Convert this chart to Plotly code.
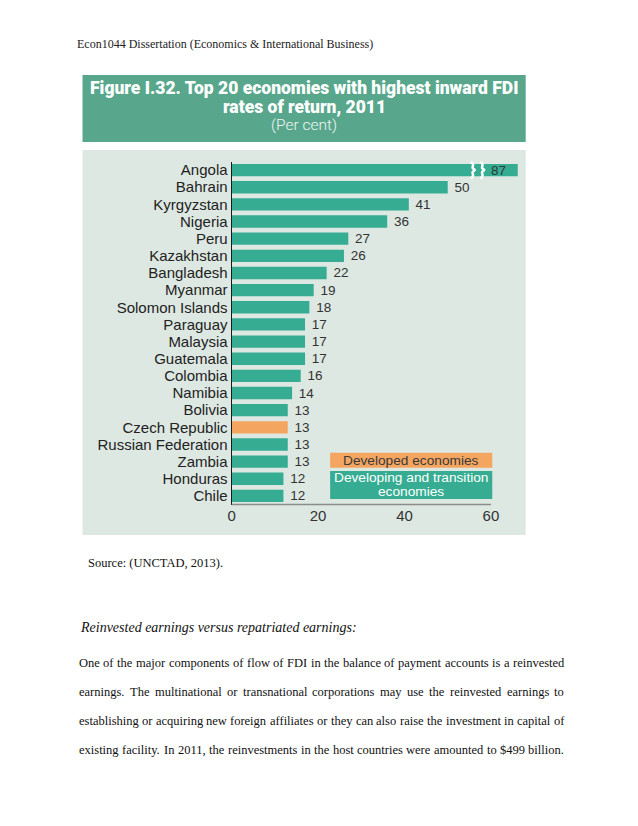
import plotly.graph_objects as go

# ---------------- data ----------------
countries = ["Angola", "Bahrain", "Kyrgyzstan", "Nigeria", "Peru", "Kazakhstan",
             "Bangladesh", "Myanmar", "Solomon Islands", "Paraguay", "Malaysia",
             "Guatemala", "Colombia", "Namibia", "Bolivia", "Czech Republic",
             "Russian Federation", "Zambia", "Honduras", "Chile"]
rates = [87, 50, 41, 36, 27, 26, 22, 19, 18, 17, 17, 17, 16, 14, 13, 13, 13, 13, 12, 12]
groups = ["Developing"] * 15 + ["Developed"] + ["Developing"] * 4
x_ticks = [0, 20, 40, 60]
AXIS_BREAK = 66.2          # axis is cut here; Angola's bar is drawn broken

title_lines = ["Figure I.32. Top 20 economies with highest inward FDI",
               "rates of return, 2011"]
subtitle = "(Per cent)"
legend_labels = {"Developed": "Developed economies",
                 "Developing": ["Developing and transition", "economies"]}

header = "Econ1044 Dissertation (Economics & International Business)"
source = "Source: (UNCTAD, 2013)."
heading = "Reinvested earnings versus repatriated earnings:"
para_lines = [
    "One of the major components of flow of FDI in the balance of payment accounts is a reinvested",
    "earnings. The multinational or transnational corporations may use the reinvested earnings to",
    "establishing or acquiring new foreign affiliates or they can also raise the investment in capital of",
    "existing facility. In 2011, the reinvestments in the host countries were amounted to $499 billion.",
]

# ---------------- styles ----------------
W, H = 638, 826
TEAL = "#36ad93"
ORANGE = "#f4a661"
TITLE_BG = "#58a78c"
PANEL_BG = "#dde8e2"
SANS = "Liberation Sans, Arial, sans-serif"
SERIF = "Liberation Serif, Times New Roman, serif"
TITLE_FONT = "Roboto, Liberation Sans, sans-serif"
color_map = {"Developing": TEAL, "Developed": ORANGE}


def px(x):
    return x / W


def py(y):
    return 1 - y / H


idx = list(range(len(countries)))
bar_colors = [color_map[g] for g in groups]
bar_text = ["" if v > AXIS_BREAK else "\u00a0" + str(v) for v in rates]

fig = go.Figure()
fig.add_trace(go.Bar(
    x=rates, y=idx, orientation="h", marker=dict(color=bar_colors, line=dict(width=0)),
    width=0.72, text=bar_text, textposition="outside", constraintext="none",
    textfont=dict(family=SANS, size=13.5, color="#333333"), cliponaxis=True,
    hoverinfo="skip", showlegend=False,
))

# break marks on the Angola bar (brace-like white squiggles)
for c in [55.7, 57.9]:
    fig.add_trace(go.Scatter(
        x=[c - 0.3, c + 0.15, c + 0.05, c + 0.55, c + 0.05, c + 0.15, c - 0.3],
        y=[-0.5, -0.33, -0.12, 0, 0.12, 0.33, 0.5], mode="lines",
        line=dict(color="white", width=2.5, shape="spline"),
        hoverinfo="skip", showlegend=False))

shapes = [
    # title box
    dict(type="rect", xref="paper", yref="paper", x0=px(79), x1=px(525), y0=py(142), y1=py(75),
         fillcolor=TITLE_BG, line=dict(width=0), layer="below"),
    # chart panel
    dict(type="rect", xref="paper", yref="paper", x0=px(79), x1=px(525), y0=py(535), y1=py(150),
         fillcolor=PANEL_BG, line=dict(width=0), layer="below"),
    # x axis line (0..60)
    dict(type="line", xref="x", yref="paper", x0=x_ticks[0], x1=x_ticks[-1],
         y0=py(504.5), y1=py(504.5), line=dict(color="#8c8c8c", width=1.5)),
    # legend boxes
    dict(type="rect", xref="x", yref="y", x0=22.8, x1=60.3, y0=16.48, y1=17.36,
         fillcolor=ORANGE, line=dict(width=0)),
    dict(type="rect", xref="x", yref="y", x0=22.8, x1=60.3, y0=17.55, y1=19.18,
         fillcolor=TEAL, line=dict(width=0)),
]

ann = []
# Angola value label inside the broken bar
ann.append(dict(x=AXIS_BREAK - 4.4, y=0, xref="x", yref="y", text=str(rates[0]),
                showarrow=False, font=dict(family=SANS, size=13.5, color="#2b3a35")))
# legend texts
ann.append(dict(x=41.5, y=16.93, xref="x", yref="y", text=legend_labels["Developed"],
                showarrow=False, font=dict(family=SANS, size=13.7, color="#3a3a3a")))
ann.append(dict(x=41.5, y=17.95, xref="x", yref="y", text=legend_labels["Developing"][0],
                showarrow=False, font=dict(family=SANS, size=13.7, color="white")))
ann.append(dict(x=41.5, y=18.77, xref="x", yref="y", text=legend_labels["Developing"][1],
                showarrow=False, font=dict(family=SANS, size=13.7, color="white")))
# title
for t, yy in zip(title_lines, [88, 107]):
    ann.append(dict(x=px(302), y=py(yy), xref="paper", yref="paper", text=t,
                    showarrow=False, xanchor="center", yanchor="middle",
                    font=dict(family=TITLE_FONT, size=17.5, color="white", weight=900)))
ann.append(dict(x=px(302), y=py(125), xref="paper", yref="paper", text=subtitle,
                showarrow=False, xanchor="center", yanchor="middle",
                font=dict(family=TITLE_FONT, size=15.5, color="#eef6f2", weight=300)))
# page texts
ann.append(dict(x=px(71), y=py(44), xref="paper", yref="paper", text=header, showarrow=False,
                xanchor="left", yanchor="middle", font=dict(family=SERIF, size=12, color="#222")))
ann.append(dict(x=px(83), y=py(563), xref="paper", yref="paper", text=source, showarrow=False,
                xanchor="left", yanchor="middle", font=dict(family=SERIF, size=12.5, color="#111")))
ann.append(dict(x=px(74), y=py(627), xref="paper", yref="paper", text="<i>" + heading + "</i>",
                showarrow=False, xanchor="left", yanchor="middle",
                font=dict(family=SERIF, size=14, color="#111")))

# justified paragraph (Times metrics, units per 1000 em)
TW = {" ": 250, ".": 250, ",": 250, "$": 500, ":": 278}
TW.update({d: 500 for d in "0123456789"})
TW.update(dict(zip("abcdefghijklmnopqrstuvwxyz",
                   [444, 500, 444, 500, 444, 333, 500, 500, 278, 278, 500, 278, 778, 500, 500,
                    500, 500, 333, 389, 278, 500, 500, 722, 500, 500, 444])))
TW.update({"O": 722, "F": 556, "D": 722, "I": 333, "T": 611})


def wlen(s):
    return sum(TW.get(ch, 500) for ch in s) / 1000.0


LEFT, RIGHT = 75, 563
width = RIGHT - LEFT
natural = [wlen(l) for l in para_lines]
fs = min(12.5, width / max(natural) * 0.995)
for li, (line, yy) in enumerate(zip(para_lines, [663, 692, 721, 750])):
    words = line.split(" ")
    ww = [wlen(w) * fs for w in words]
    gap = (width - sum(ww)) / (len(words) - 1)
    xcur = LEFT
    for w, wpx in zip(words, ww):
        ann.append(dict(x=px(xcur - 1.5), y=py(yy), xref="paper", yref="paper", text=w,
                        showarrow=False, xanchor="left", yanchor="middle",
                        font=dict(family=SERIF, size=fs, color="#111")))
        xcur += wpx + gap

fig.update_layout(
    width=W, height=H, margin=dict(l=0, r=0, t=0, b=0),
    paper_bgcolor="white", plot_bgcolor="rgba(0,0,0,0)",
    shapes=shapes, annotations=ann, bargap=0.3,
    xaxis=dict(domain=[px(229), px(517)], range=[0, AXIS_BREAK], tickvals=x_ticks,
               showgrid=False, zeroline=False, showline=False, ticks="",
               tickfont=dict(family=SANS, size=15, color="#333")),
    yaxis=dict(domain=[py(504.5), py(161.5)], range=[19.5, -0.5], tickvals=idx,
               ticktext=countries, showgrid=False, zeroline=False, showline=True,
               linecolor="#1a1a1a", linewidth=1, ticks="",
               tickfont=dict(family=SANS, size=15, color="#222")),
)

fig.write_html("out.html", config={"displayModeBar": False},
               post_script="document.body.style.margin='0';document.body.style.overflow='hidden';")
